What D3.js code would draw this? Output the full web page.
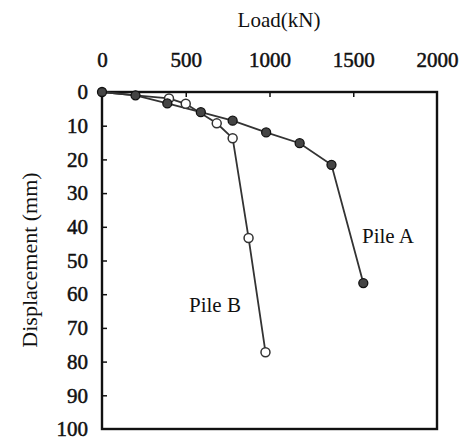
<!DOCTYPE html>
<html><head><meta charset="utf-8">
<script src="https://cdn.jsdelivr.net/npm/d3@7"></script>
<style>body{margin:0;background:#fff}svg{display:block}</style>
</head><body>
<script>
const xTicks = [0, 500, 1000, 1500, 2000];
const yTicks = [0, 10, 20, 30, 40, 50, 60, 70, 80, 90, 100];
const pileALoad = [0, 200, 390, 590, 780, 980, 1180, 1370, 1560];
const pileADisp = [0, 1, 3.4, 6, 8.5, 12, 15.2, 21.6, 56.7];
const pileBLoad = [0, 200, 400, 500, 685, 780, 875, 976];
const pileBDisp = [0, 1, 1.9, 3.5, 9.3, 13.7, 43.3, 77.2];
const seriesNames = ["Pile A", "Pile B"];

const W = 464, H = 440;
const L = 102, T = 92, R = 437, B = 429;
const svg = d3.select("body").append("svg").attr("width", W).attr("height", H);
const x = d3.scaleLinear().domain([0, 2000]).range([L, R]);
const y = d3.scaleLinear().domain([0, 100]).range([T, B]);
const font = "'Liberation Serif', 'Times New Roman', serif";
const ink = "#111";

// frame
svg.append("rect").attr("x", L).attr("y", T).attr("width", R - L).attr("height", B - T)
  .attr("fill", "none").attr("stroke", ink).attr("stroke-width", 2.4);

const xa = svg.append("g").attr("transform", `translate(0,${T})`)
  .call(d3.axisTop(x).tickValues(xTicks).tickFormat(d3.format("d")).tickSizeInner(-5).tickSizeOuter(0).tickPadding(25));
xa.select(".domain").remove();
xa.selectAll("line").attr("stroke", ink).attr("stroke-width", 1.5)
  .filter(d => d === 0 || d === 2000).remove();
xa.selectAll("text").attr("font-family", font).attr("font-size", 21).attr("fill", ink)
  .attr("stroke", ink).attr("stroke-width", 0.5);

const ya = svg.append("g").attr("transform", `translate(${L},0)`)
  .call(d3.axisLeft(y).tickValues(yTicks).tickFormat(d3.format("d")).tickSizeInner(-5).tickSizeOuter(0).tickPadding(14));
ya.select(".domain").remove();
ya.selectAll("line").attr("stroke", ink).attr("stroke-width", 1.5)
  .filter(d => d === 0 || d === 100).remove();
ya.selectAll("text").attr("font-family", font).attr("font-size", 21).attr("fill", ink)
  .attr("stroke", ink).attr("stroke-width", 0.5);

svg.append("text").attr("x", 279).attr("y", 27).attr("text-anchor", "middle")
  .attr("font-family", font).attr("font-size", 21).attr("fill", ink).text("Load(kN)");
svg.append("text").attr("transform", "translate(37,260) rotate(-90)").attr("text-anchor", "middle")
  .attr("font-family", font).attr("font-size", 22).attr("fill", ink).text("Displacement (mm)");

const line = d3.line().x(d => x(d[0])).y(d => y(d[1]));
const dataB = pileBLoad.map((v, i) => [v, pileBDisp[i]]);
const dataA = pileALoad.map((v, i) => [v, pileADisp[i]]);

svg.append("path").datum(dataB).attr("d", line).attr("fill", "none").attr("stroke", "#333").attr("stroke-width", 1.8);
svg.append("path").datum(dataA).attr("d", line).attr("fill", "none").attr("stroke", "#333").attr("stroke-width", 1.8);

svg.append("g").selectAll("circle").data(dataB.slice(2)).join("circle")
  .attr("cx", d => x(d[0])).attr("cy", d => y(d[1])).attr("r", 4.5)
  .attr("fill", "#fff").attr("stroke", "#333").attr("stroke-width", 1.5);
svg.append("g").selectAll("circle").data(dataA).join("circle")
  .attr("cx", d => x(d[0])).attr("cy", d => y(d[1])).attr("r", 4.5)
  .attr("fill", "#444").attr("stroke", "#111").attr("stroke-width", 1.3);

svg.append("text").attr("x", 362).attr("y", 243).attr("font-family", font).attr("font-size", 21)
  .attr("fill", ink).text(seriesNames[0]);
svg.append("text").attr("x", 189).attr("y", 312).attr("font-family", font).attr("font-size", 21)
  .attr("fill", ink).text(seriesNames[1]);
</script>
</body></html>
